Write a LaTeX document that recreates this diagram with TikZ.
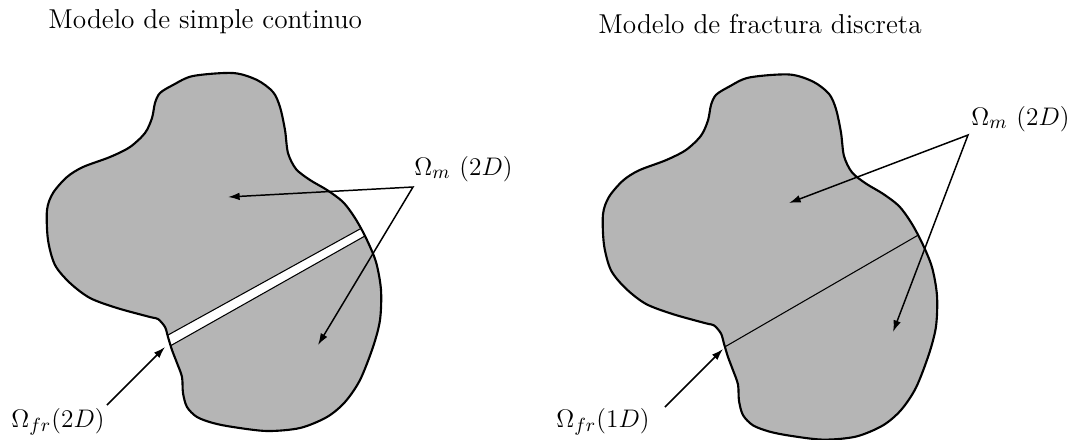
\documentclass[tikz,border=0pt]{standalone}
\usetikzlibrary{arrows.meta}
\definecolor{blobgray}{RGB}{181,181,181}
\tikzset{
  outline/.style={draw=black, line width=1pt, line join=round},
  pointer/.style={draw=black, line width=0.7pt, line join=miter, {Latex[length=5.5pt,width=3.6pt]}-{Latex[length=5.5pt,width=3.6pt]}},
  spointer/.style={draw=black, line width=0.7pt, -{Latex[length=5.5pt,width=3.6pt]}},
  crack/.style={draw=black, line width=0.5pt},
  lbl/.style={anchor=base west, inner sep=0pt, font=\fontsize{12.7}{15}\selectfont},
  ttl/.style={anchor=base west, inner sep=0pt, font=\fontsize{12.9}{15}\selectfont},
}
\def\blobpath{plot[smooth cycle, tension=0.5] coordinates {
(155,103) (160,93) (173,85) (193,76) (233,73) (257,80) (273,92) (280,107)
(285,130) (288,153) (296,169) (310,180) (327,190) (343,202) (355,218)
(366,238) (376,262) (381,290) (380,320) (373,347) (360,380) (345,402)
(327,417) (300,428) (267,431) (233,427) (213,423) (197,417) (187,407)
(183,393) (182,377) (177,363) (172,350) (168,337) (165,327) (158,319)
(150,317) (117,308) (90,298) (70,283) (55,265) (48,240) (47,210) (53,193)
(67,177) (83,167) (110,157) (130,147) (145,133) (152,118)}}
\begin{document}
\begin{tikzpicture}[x=0.4723pt, y=-0.4723pt]
\useasboundingbox (0,0) rectangle (1076,439);

% ---------- left: continuous model ----------
\fill[blobgray] \blobpath;
\begin{scope}
  \clip \blobpath;
  \fill[white] (159,340) -- (369,224) -- (372,232) -- (163,350) -- cycle;
  \draw[crack] (159,340) -- (369,224);
  \draw[crack] (163,350) -- (372,232);
\end{scope}
\draw[outline] \blobpath;

\coordinate (apexL) at (413,187);
\coordinate (tipL1) at (228,197);
\coordinate (tipL2) at (318,345);
\coordinate (tailF2) at (107,405);
\coordinate (tipF2) at (165,347);
\draw[pointer] (tipL1) -- (apexL) -- (tipL2);
\draw[spointer] (tailF2) -- (tipF2);

\node[lbl] (omL) at (414,175) {$\Omega_m$ $(2D)$};
\node[lbl] (frL) at (11,427) {$\Omega_{fr}(2D)$};
\node[ttl] (tL) at (48,28) {Modelo de simple continuo};

% ---------- right: discrete fracture model ----------
\fill[blobgray, shift={(556,0)}, yscale=1.02] \blobpath;
\begin{scope}
  \clip[shift={(556,0)}, yscale=1.02] \blobpath;
  \draw[crack] (716,352) -- (927,230);
\end{scope}
\draw[outline, shift={(556,0)}, yscale=1.02] \blobpath;

\coordinate (apexR) at (968,135);
\coordinate (tipR1) at (789,203);
\coordinate (tipR2) at (893,332);
\coordinate (tailF1) at (665,407);
\coordinate (tipF1) at (723,349);
\draw[pointer] (tipR1) -- (apexR) -- (tipR2);
\draw[spointer] (tailF1) -- (tipF1);

\node[lbl] (omR) at (971,125) {$\Omega_m$ $(2D)$};
\node[lbl] (frR) at (556,427) {$\Omega_{fr}(1D)$};
\node[ttl] (tR) at (598,33) {Modelo de fractura discreta};
\end{tikzpicture}
\end{document}
